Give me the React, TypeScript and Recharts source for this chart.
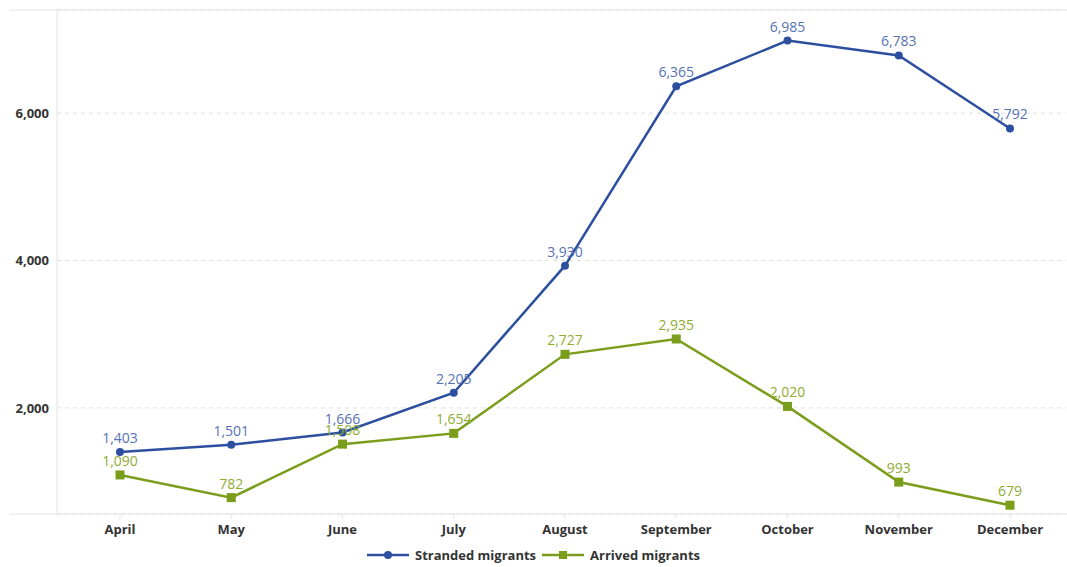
import { LineChart, Line, XAxis, YAxis, CartesianGrid, LabelList } from 'recharts';

const months = ['April', 'May', 'June', 'July', 'August', 'September', 'October', 'November', 'December'];
const stranded = [1403, 1501, 1666, 2205, 3930, 6365, 6985, 6783, 5792];
const arrived = [1090, 782, 1508, 1654, 2727, 2935, 2020, 993, 679];
const yTicks = [2000, 4000, 6000];

const BLUE = '#2c4f9f';
const BLUE_LABEL = '#5573b4';
const GREEN = '#7b9d1c';
const GREEN_LABEL = '#8fac32';
const FONT = '"Open Sans", "Noto Sans", sans-serif';

const W = 1067;
const H = 567;
const LEFT = 57;
const TOP = 10;
const AXIS_Y = 514;

const data = months.map((m, i) => ({ month: m, stranded: stranded[i], arrived: arrived[i] }));

const fmt = (v: number) => v.toLocaleString('en-US');

function LegendIcon({ color, square }: { color: string; square?: boolean }) {
  return (
    <svg width={42} height={10} style={{ marginRight: 6 }}>
      <line x1={0} y1={5} x2={42} y2={5} stroke={color} strokeWidth={2.5} />
      {square ? <rect x={17} y={1} width={8} height={8} fill={color} /> : <circle cx={21} cy={5} r={4} fill={color} />}
    </svg>
  );
}

const SquareDot = (props: any) => {
  const { cx, cy } = props;
  if (cx == null || cy == null) return null;
  return <rect x={cx - 4.5} y={cy - 4.5} width={9} height={9} fill={GREEN} />;
};

export default function App() {
  return (
    <div style={{ position: 'absolute', left: 0, top: 0, width: W, height: H, background: '#fff', fontFamily: FONT }}>
      {/* frame lines that run past the y axis */}
      <svg width={W} height={H} style={{ position: 'absolute', left: 0, top: 0 }}>
        <line x1={9} y1={TOP} x2={W} y2={TOP} stroke="#e2e2e2" strokeWidth={1} />
        <line x1={9} y1={AXIS_Y} x2={W} y2={AXIS_Y} stroke="#e2e2e2" strokeWidth={1} />
      </svg>
      <div style={{ position: 'absolute', left: 0, top: 0 }}>
        <LineChart width={W} height={H} data={data} margin={{ top: TOP, right: 1, bottom: H - AXIS_Y - 24, left: 0 }}>
          <CartesianGrid horizontal vertical={false} stroke="#dedede" strokeDasharray="4 4" />
          <XAxis
            dataKey="month"
            height={24}
            padding={{ left: 63, right: 56 }}
            axisLine={false}
            tickLine={{ stroke: '#e6e6e6' }}
            tickSize={5}
            tickMargin={6}
            tick={{ fill: '#333', fontSize: 13, fontWeight: 700, fontFamily: FONT }}
            interval={0}
          />
          <YAxis
            width={LEFT}
            domain={[560, 7400]}
            ticks={yTicks}
            axisLine={{ stroke: '#e3e3e3' }}
            tickLine={false}
            tickSize={6}
            tickMargin={2}
            tickFormatter={fmt}
            tick={{ fill: '#333', fontSize: 13, fontWeight: 700, fontFamily: FONT }}
          />
          <Line
            type="linear"
            dataKey="arrived"
            name="Arrived migrants"
            stroke={GREEN}
            strokeWidth={2.5}
            dot={<SquareDot />}
            activeDot={false}
            isAnimationActive={false}
          >
            <LabelList dataKey="arrived" position="top" offset={9} formatter={fmt} fill={GREEN_LABEL} fontSize={14} fontFamily={FONT} />
          </Line>
          <Line
            type="linear"
            dataKey="stranded"
            name="Stranded migrants"
            stroke={BLUE}
            strokeWidth={2.5}
            dot={{ r: 4, fill: BLUE, stroke: BLUE, strokeWidth: 0 }}
            activeDot={false}
            isAnimationActive={false}
          >
            <LabelList dataKey="stranded" position="top" offset={9} formatter={fmt} fill={BLUE_LABEL} fontSize={14} fontFamily={FONT} />
          </Line>
        </LineChart>
      </div>
      <div
        style={{
          position: 'absolute',
          left: 0,
          top: 546,
          width: W,
          display: 'flex',
          justifyContent: 'center',
          alignItems: 'center',
          fontSize: 13,
          fontWeight: 700,
          color: '#333',
          lineHeight: '18px',
        }}
      >
        <LegendIcon color={BLUE} />
        <span style={{ marginRight: 6 }}>Stranded migrants</span>
        <LegendIcon color={GREEN} square />
        <span>Arrived migrants</span>
      </div>
    </div>
  );
}
